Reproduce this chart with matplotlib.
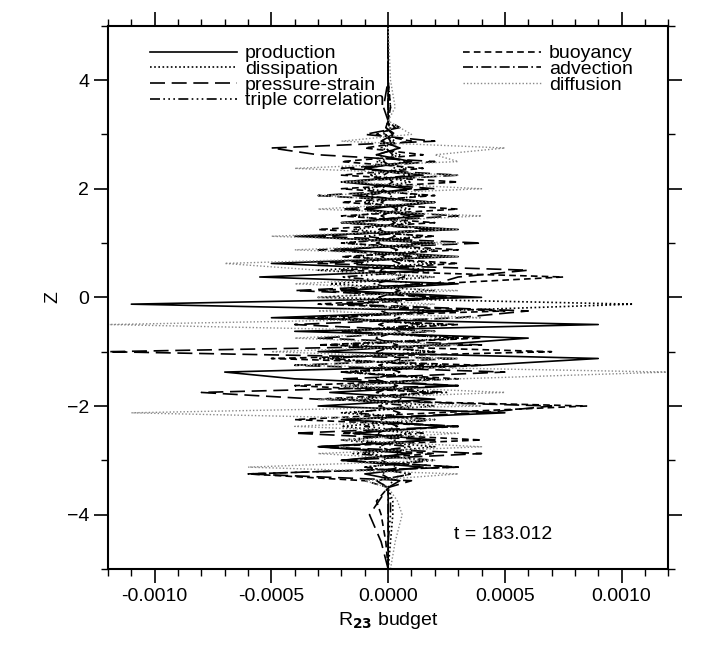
import numpy as np
import matplotlib
matplotlib.use("Agg")
import matplotlib.pyplot as plt
from matplotlib.ticker import MultipleLocator

plt.rcParams['font.family'] = ['Liberation Sans', 'DejaVu Sans']

z_core = np.arange(-3.5, 3.25 + 1e-9, 0.125)
z_pre = [-5, -4.5, -4, -3.75]
z_post = [3.5, 4, 5]

# values in units of 1e-4
production = [0,0.5,-1,1.5,-2,1,-3,2,-1.5,2.5,-2,5,-3,2,-2.5,3,-4,-7,4,9,-3,2,6,-4,9,-5,3,-11,4,-2,3,-5.5,2,-5,3,-2,2,-4,3,-2,1.5,-1,2,-1.5,1,-2,1.5,-1,1,-0.5,0.5,-0.3,0.2,-0.1,0]
dissipation = [0,-0.5,1,-1,1.5,-1,2,-1.5,1,-2,1.5,-2,2,-1,1.5,-2,2,-1.5,2.5,-3,2,-2.5,3,-2,2.5,-3,2,10.5,-3,2,-2.5,2,-3,2,-1.5,2,-2,1.5,-1.5,1,-1.5,1,-1,1.5,-1,1,-0.8,0.8,-0.5,0.5,-0.3,0.3,-0.2,0.1,0]
pressure = [0,1,-6,3,-2,4,-3,2,-4,3,-2,4,7,-3,-8,3,-2,5,-4,3,-12,4,-3,2,-4,3,6,-2,3,-4,2,3,6,-3,2,-3,4,-3,2,-2,3,-2,2,-3,2,-2,3,-2,2,-3,-5,2,-1,0.5,0]
triple = [0,-0.5,1,-1,2,-1.5,1,-2,1.5,-1,2,-1.5,1,-2,2.5,-1.5,2,-2,1.5,-2.5,2,-1.5,3,-2,1.5,-2,2,-1.5,2.5,-2,1.5,-2,2,-1.5,1,-2,1.5,-1,2,-1.5,1,-1,1.5,-1,1,-1.5,1,-1,0.8,-0.5,0.5,-0.3,0.3,-0.1,0]
buoyancy = [0,-1,-6,3,-2,2,-3,4,-2,3,-4,2,8.5,-3,2,-4,3,-2,4,-5,7,-3,4,-2,3,-4,5,-3,2,-3,2,7.5,-2,3,-2,3,-2,2,-3,2,-2,3,-2,2,-2,3,-2,1.5,-2,1.5,-1,1,-0.5,0.3,0]
advection = [0,0.2,-0.3,0.4,-0.3,0.5,-0.4,0.3,-0.5,0.4,-0.3,0.5,-0.4,0.6,-0.5,0.4,-0.6,0.5,-0.4,0.6,-0.5,0.4,-0.6,0.5,-0.4,0.5,-0.3,0.6,-0.4,0.5,-0.6,0.7,-0.4,0.5,-0.3,0.4,-0.5,0.3,-0.4,0.3,-0.3,0.4,-0.3,0.2,-0.3,0.2,-0.2,0.3,-0.2,0.2,-0.1,0.1,-0.1,0.05,0]
diffusion = [0,-1,3,-6,2,-3,4,-2,3,-4,2,-11,4,-3,5,-2,3,12,-4,3,-5,3,-4,2,-12,4,-3,2,-3,3,-4,2,-3,-7,3,-4,3,-5,3,-2,4,-3,2,-3,4,-2,3,-4,3,2,5,-2,1,0.5,0]

tails = {
    'production': ([0, 0, 0, 0], [0, 0, 0]),
    'dissipation': ([0, 0.1, 0.2, 0.2], [0.1, 0, 0]),
    'pressure': ([0, -0.3, -0.8, -0.4], [-0.2, 0, 0]),
    'triple': ([0, 0, 0.1, 0.1], [0, 0, 0]),
    'buoyancy': ([0, -0.1, -0.3, -0.5], [0.1, 0, 0]),
    'advection': ([0, 0, 0, 0], [0, 0, 0]),
    'diffusion': ([0.1, 0.3, 0.6, 0.4], [0.3, 0.1, 0]),
}

def full(name, core):
    pre, post = tails[name]
    return np.array(pre + list(core) + post) * 1e-4

z = np.concatenate([z_pre, z_core, z_post])

fig = plt.figure(figsize=(7.22, 6.49), dpi=100)
ax = fig.add_axes([0.1496, 0.1233, 0.776, 0.837])

series = [
    ('production', production, dict(color='black', ls='-', lw=1.2)),
    ('dissipation', dissipation, dict(color='black', ls=(0, (1, 1.5)), lw=1.2)),
    ('pressure-strain', pressure, dict(color='black', ls=(0, (9, 4)), lw=1.2)),
    ('triple correlation', triple, dict(color='black', ls=(0, (6, 2, 1, 2, 1, 2, 1, 2)), lw=1.2)),
    ('buoyancy', buoyancy, dict(color='black', ls=(0, (4, 2.5)), lw=1.2)),
    ('advection', advection, dict(color='black', ls=(0, (6, 2, 1, 2)), lw=1.2)),
    ('diffusion', diffusion, dict(color='#888888', ls=(0, (1, 1.5)), lw=1.0)),
]
keys = ['production', 'dissipation', 'pressure', 'triple', 'buoyancy', 'advection', 'diffusion']
handles = []
for (label, vals, st), k in zip(series, keys):
    h, = ax.plot(full(k, vals), z, label=label, **st)
    handles.append(h)

ax.set_xlim(-0.0012, 0.0012)
ax.set_ylim(-5, 5)
ax.xaxis.set_major_locator(MultipleLocator(0.0005))
ax.xaxis.set_minor_locator(MultipleLocator(0.0001))
ax.yaxis.set_major_locator(MultipleLocator(2))
ax.yaxis.set_minor_locator(MultipleLocator(1))
ax.tick_params(which='both', direction='out', top=True, right=True, labelsize=14)
ax.tick_params(which='major', length=10, width=1.2)
ax.tick_params(which='minor', length=5, width=1)
ax.xaxis.set_major_formatter(matplotlib.ticker.FuncFormatter(lambda v, p: f"{v:.4f}"))
for s in ax.spines.values():
    s.set_linewidth(1.5)
ax.set_xlabel(r'R$_{\mathbf{23}}$ budget', fontsize=14)
ax.set_ylabel('Z', fontsize=14)

leg1 = ax.legend(handles[:4], [s[0] for s in series[:4]], loc='upper left',
                 bbox_to_anchor=(0.05, 0.99), frameon=False, fontsize=14,
                 handlelength=4.5, labelspacing=-0.1, borderpad=0.2, handletextpad=0.4)
ax.add_artist(leg1)
ax.legend(handles[4:], [s[0] for s in series[4:]], loc='upper left',
          bbox_to_anchor=(0.61, 0.99), frameon=False, fontsize=14,
          handlelength=4.0, labelspacing=-0.1, borderpad=0.2, handletextpad=0.4)

ax.text(0.00028, -4.45, 't = 183.012', fontsize=14)

fig.savefig('out.png', dpi=100)
